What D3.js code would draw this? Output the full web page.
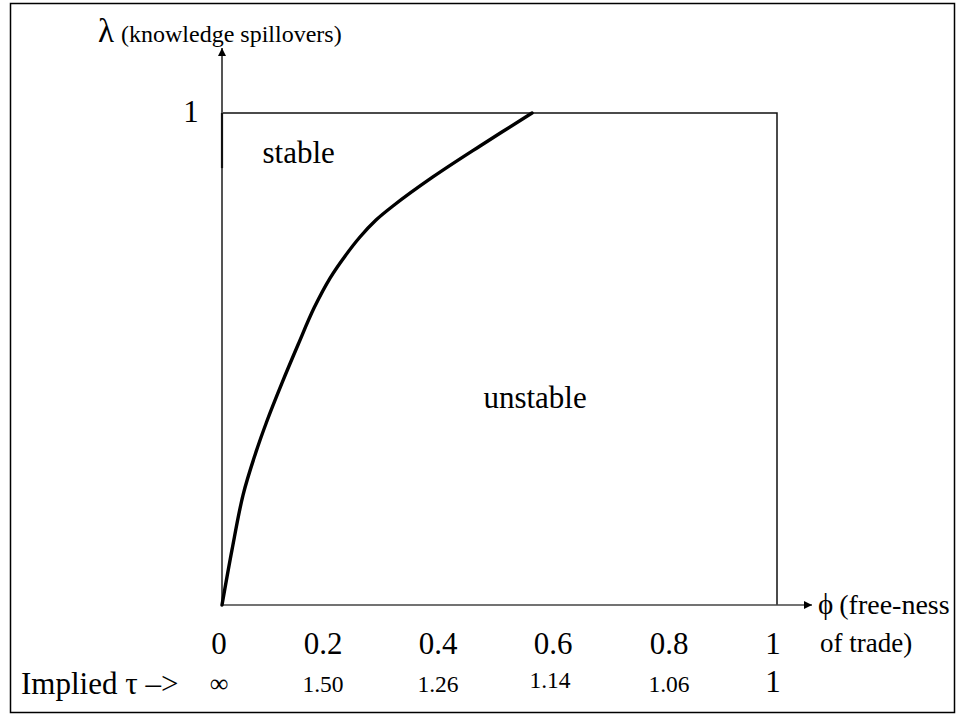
<!DOCTYPE html>
<html>
<head>
<meta charset="utf-8">
<script src="https://cdn.jsdelivr.net/npm/d3@7"></script>
<style>
  html, body { margin: 0; padding: 0; background: #fff; }
  svg { display: block; }
  text { font-family: "Liberation Serif", "Times New Roman", serif; fill: #000; }
</style>
</head>
<body>
<svg id="chart" width="958" height="717"></svg>
<script>
// ---- data ----
const phiTicks = [0, 0.2, 0.4, 0.6, 0.8, 1];
const phiTickLabels = ["0", "0.2", "0.4", "0.6", "0.8", "1"];
const tauLabels = ["\u221E", "1.50", "1.26", "1.14", "1.06", "1"];
const lambdaTicks = [1];
const lambdaTickLabels = ["1"];
// boundary between stable / unstable regions (phi, lambda)
const curvePhi    = [0, 0.018, 0.038, 0.0595, 0.081, 0.108, 0.137, 0.166, 0.195, 0.2216, 0.2486, 0.2775, 0.308, 0.380, 0.465, 0.5586];
const curveLambda = [0, 0.112, 0.224, 0.305, 0.374, 0.451, 0.529, 0.604, 0.665, 0.709, 0.748, 0.7825, 0.811, 0.870, 0.933, 1.0];
const regionLabels = ["stable", "unstable"];
const regionPhi = [0.073, 0.471];
const regionLambda = [0.899, 0.40];

// ---- layout ----
const svg = d3.select("#chart");
const x = d3.scaleLinear().domain([0, 1]).range([222, 777]);
const y = d3.scaleLinear().domain([0, 1]).range([605, 113]);
// hand-typed labels in the original sit slightly off the exact tick positions
const labelNudge = [-3, -10, -6, -2, 3, -4];

// outer frame
svg.append("rect").attr("x", 10.5).attr("y", 3.5).attr("width", 944).attr("height", 709)
  .attr("fill", "none").attr("stroke", "#000").attr("stroke-width", 1.5);

// arrow markers
const defs = svg.append("defs");
defs.append("marker").attr("id", "arr").attr("viewBox", "0 0 10 10")
  .attr("refX", 10).attr("refY", 5).attr("markerWidth", 10).attr("markerHeight", 8)
  .attr("markerUnits", "userSpaceOnUse").attr("orient", "auto")
  .append("path").attr("d", "M0,0 L10,5 L0,10 Z").attr("fill", "#000");

// box (top and right edges)
svg.append("path")
  .attr("d", `M${x(0)},${y(1)} H${x(1)} V${y(0)}`)
  .attr("fill", "none").attr("stroke", "#111").attr("stroke-width", 1.5);

// y axis with arrow
svg.append("line").attr("x1", x(0)).attr("y1", y(0)).attr("x2", x(0)).attr("y2", 48)
  .attr("stroke", "#555").attr("stroke-width", 2).attr("marker-end", "url(#arr)");
// darker short piece of the box's left edge at the top
svg.append("line").attr("x1", x(0)).attr("y1", y(1)).attr("x2", x(0)).attr("y2", y(0.888))
  .attr("stroke", "#111").attr("stroke-width", 2.2);
// x axis with arrow
svg.append("line").attr("x1", x(0)).attr("y1", y(0)).attr("x2", 812).attr("y2", y(0))
  .attr("stroke", "#444").attr("stroke-width", 1.5).attr("marker-end", "url(#arr)");

// curve
const line = d3.line().x((d, i) => x(curvePhi[i])).y((d, i) => y(curveLambda[i]))
  .curve(d3.curveCatmullRom.alpha(0.5));
svg.append("path").datum(curvePhi).attr("d", line)
  .attr("fill", "none").attr("stroke", "#000").attr("stroke-width", 3.4)
  .attr("stroke-linejoin", "round").attr("stroke-linecap", "round");

// y tick label
svg.selectAll(".ylab").data(lambdaTicks).enter().append("text")
  .attr("x", 191).attr("y", d => y(d) + 9)
  .attr("text-anchor", "middle").attr("font-size", 31)
  .text((d, i) => lambdaTickLabels[i]);

// y axis title
const yt = svg.append("text").attr("x", 98).attr("y", 42);
yt.append("tspan").attr("font-size", 33).text("\u03BB");
yt.append("tspan").attr("font-size", 24).attr("dx", 7).text("(knowledge spillovers)");

// x tick labels
svg.selectAll(".xlab").data(phiTicks).enter().append("text")
  .attr("x", (d, i) => x(d) + labelNudge[i]).attr("y", 654)
  .attr("text-anchor", "middle").attr("font-size", 31)
  .text((d, i) => phiTickLabels[i]);

// implied tau row
svg.append("text").attr("x", 21).attr("y", 694).attr("font-size", 31).text("Implied \u03C4 \u2013>");
svg.selectAll(".tau").data(phiTicks).enter().append("text")
  .attr("x", (d, i) => x(d) + labelNudge[i] - (i === 3 ? 3 : 0))
  .attr("y", (d, i) => i === 3 ? 688 : 692)
  .attr("text-anchor", "middle")
  .attr("font-size", (d, i) => i === phiTicks.length - 1 ? 31 : (i === 0 ? 26 : 23.5))
  .text((d, i) => tauLabels[i]);

// x axis title
const xt = svg.append("text").attr("x", 818).attr("y", 614);
xt.append("tspan").attr("font-size", 29).text("\u03D5");
xt.append("tspan").attr("font-size", 28).attr("dx", 6).text("(free-ness");
svg.append("text").attr("x", 820).attr("y", 652).attr("font-size", 27).text("of trade)");

// region labels
svg.selectAll(".region").data(regionLabels).enter().append("text")
  .attr("x", (d, i) => x(regionPhi[i])).attr("y", (d, i) => y(regionLambda[i]))
  .attr("font-size", 31)
  .text(d => d);
</script>
</body>
</html>
